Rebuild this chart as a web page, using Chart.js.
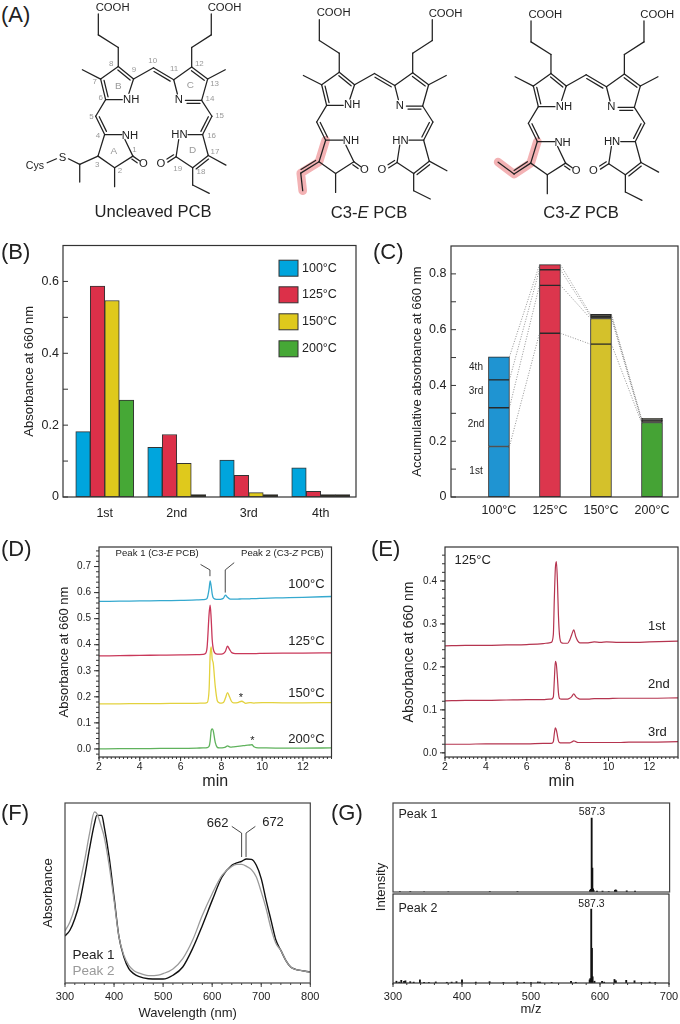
<!DOCTYPE html>
<html>
<head>
<meta charset="utf-8">
<title>PCB figure</title>
<script src="https://cdn.jsdelivr.net/npm/chart.js@4"></script>
<style>
  html, body { margin: 0; padding: 0; background: #fff; }
  body { position: relative; width: 680px; height: 1024px; overflow: hidden; font-family: "Liberation Sans", Arial, sans-serif; color: #222; }
  canvas { position: absolute; }
  svg { position: absolute; left: 0; top: 0; }
  .t { position: absolute; white-space: nowrap; line-height: 1; }
</style>
</head>
<body>
<script>
// panel B
const roundLabels = ['1st', '2nd', '3rd', '4th'];
const tempLabels = ['100°C', '125°C', '150°C', '200°C'];
const b100 = [0.182, 0.138, 0.103, 0.081];
const b125 = [0.587, 0.174, 0.060, 0.016];
const b150 = [0.547, 0.094, 0.012, 0.007];
const b200 = [0.270, 0.007, 0.007, 0.007];
const tempColors = ['#00a5dd', '#dc3049', '#dfc91c', '#46a836'];
const thinColor = '#2b2a1c';

// panel C (stack segments, one array per round, one value per temperature)
const c1st = [0.181, 0.587, 0.548, 0.267];
const c2nd = [0.139, 0.172, 0.092, 0.007];
const c3rd = [0.100, 0.056, 0.008, 0.004];
const c4th = [0.083, 0.018, 0.007, 0.004];
const stackColors = ['#1f94d2', '#dc364d', '#d4c12b', '#45a335'];

// panel D
const rtD = [2, 3, 4, 5, 6, 6.8, 7.1, 7.2, 7.3, 7.4, 7.45, 7.5, 7.55, 7.6, 7.7, 7.8, 7.9, 8.0, 8.1, 8.2, 8.3, 8.4, 8.5, 8.6, 8.8, 9.0, 9.2, 9.4, 9.5, 9.6, 9.7, 10, 11, 12, 13.4];
const d100 = [.566, .567, .568, .569, .570, .572, .573, .574, .578, .615, .645, .625, .595, .58, .575, .574, .574, .575, .578, .59, .582, .576, .575, .575, .575, .576, .576, .576, .577, .577, .577, .578, .58, .582, .585];
const d125 = [.357, .358, .359, .36, .361, .362, .363, .365, .39, .52, .552, .5, .42, .385, .366, .364, .364, .364, .366, .375, .394, .382, .37, .367, .366, .366, .366, .366, .366, .366, .366, .367, .368, .368, .369];
const d150 = [.173, .173, .174, .174, .175, .175, .176, .176, .178, .23, .36, .392, .345, .33, .24, .185, .177, .176, .178, .195, .216, .2, .182, .177, .178, .183, .175, .178, .177, .176, .177, .178, .177, .177, .178];
const d200 = [0, .001, .001, .002, .002, .003, .004, .004, .005, .01, .03, .07, .077, .07, .025, .006, .004, .004, .005, .007, .012, .008, .007, .008, .01, .012, .014, .015, .016, .008, .005, .004, .003, .003, .004];
const dColors = ['#35a9cf', '#c9385a', '#e3d23e', '#5fb25c'];
const dLeader1 = [{ x: 7.44, y: .663 }, { x: 7.44, y: .687 }, { x: 6.98, y: .708 }];
const dLeader2 = [{ x: 8.19, y: .60 }, { x: 8.19, y: .687 }, { x: 8.63, y: .715 }];

// panel E
const rtE = [2, 3, 4, 5, 6, 6.8, 7.1, 7.2, 7.3, 7.35, 7.4, 7.45, 7.5, 7.55, 7.6, 7.7, 7.8, 8.0, 8.1, 8.2, 8.3, 8.4, 8.5, 8.6, 8.8, 9.0, 9.3, 9.6, 9.9, 10.5, 11, 12, 13.4];
const e1st = [.249, .25, .25, .251, .252, .254, .256, .257, .275, .36, .43, .445, .40, .32, .275, .256, .255, .255, .262, .275, .286, .27, .26, .256, .256, .256, .258, .257, .258, .257, .257, .258, .26];
const e2nd = [.121, .122, .122, .123, .124, .124, .125, .125, .13, .17, .213, .205, .175, .14, .127, .125, .125, .125, .127, .131, .137, .131, .127, .125, .125, .125, .126, .126, .126, .127, .127, .127, .128];
const e3rd = [.02, .02, .021, .021, .021, .022, .022, .022, .026, .045, .058, .053, .04, .028, .024, .023, .023, .023, .023, .025, .028, .026, .024, .024, .024, .024, .024, .024, .024, .024, .025, .025, .026];

// panel F
const wave = [300, 310, 320, 330, 340, 350, 360, 365, 375, 380, 390, 400, 410, 420, 430, 440, 450, 470, 490, 500, 520, 540, 560, 580, 600, 620, 640, 650, 660, 670, 680, 690, 700, 710, 720, 730, 740, 750, 760, 770, 780, 790, 800];
const fPeak1 = [.261, .293, .357, .45, .589, .746, .885, .931, .931, .867, .7, .478, .256, .144, .08, .052, .037, .024, .022, .022, .043, .089, .191, .32, .459, .589, .654, .667, .676, .689, .687, .654, .58, .459, .348, .237, .181, .126, .089, .076, .07, .065, .061];
const fPeak2 = [.289, .339, .422, .552, .681, .83, .95, .941, .86, .811, .654, .459, .256, .154, .098, .07, .056, .041, .044, .052, .078, .135, .237, .376, .496, .598, .648, .659, .659, .648, .63, .589, .506, .413, .302, .219, .181, .126, .089, .076, .07, .065, .061];
const fLeft = [{ x: 660, y: .70 }, { x: 660, y: .833 }, { x: 640, y: .87 }];
const fRight = [{ x: 669, y: .70 }, { x: 669, y: .833 }, { x: 688, y: .87 }];

// panel G
const g1Mz = [310, 325, 345, 380, 440, 480, 585, 586, 587.3, 588.3, 589.3, 590, 595, 603, 612, 621, 622, 623, 638, 650];
const g1Int = [.004, .004, .003, .003, .005, .005, .02, .03, .83, .27, .035, .02, .01, .01, .006, .02, .025, .015, .014, .01];
const g2Mz = [305, 309, 312, 316, 318, 325, 330, 339, 345, 352, 362, 378, 385, 392, 400, 420, 440, 460, 480, 490, 500, 510, 513, 530, 558, 565, 585, 586, 587.3, 588.3, 589.3, 592, 603, 606, 621, 623, 638, 650, 660, 672, 680];
const g2Int = [.02, .01, .03, .02, .025, .015, .01, .035, .008, .006, .012, .008, .01, .015, .035, .01, .015, .006, .012, .008, .006, .012, .01, .006, .02, .008, .035, .05, .83, .39, .07, .02, .02, .01, .04, .025, .03, .025, .006, .01, .006];

// axis ticks
const bTicks = [0, 0.2, 0.4, 0.6], bMinor = [0.1, 0.3, 0.5];
const cTicks = [0, 0.2, 0.4, 0.6, 0.8], cMinor = [0.1, 0.3, 0.5, 0.7];
const dTicks = [0, .1, .2, .3, .4, .5, .6, .7];
const eTicks = [0, .1, .2, .3, .4];
const rtTicks = [2, 4, 6, 8, 10, 12];
const waveTicks = [300, 400, 500, 600, 700, 800];
const mzTicks = [300, 400, 500, 600, 700];

function steps(from, to, step) {
  const out = [];
  for (let i = 0; from + i * step <= to + 1e-9; i++) out.push(+(from + i * step).toFixed(3));
  return out;
}

Chart.defaults.font.family = '"Liberation Sans", Arial, sans-serif';
Chart.defaults.color = '#222';
Chart.defaults.animation = false;

const noGrid = { display: false, drawTicks: false };

// frame and tick marks, always placed through the scales
const frameTicks = {
  id: 'frameTicks',
  afterDatasetsDraw(chart, args, o) {
    const { ctx, chartArea: a, scales } = chart;
    const dir = o.dir || -1;
    const mark = (scale, v, len) => {
      const p = scale.getPixelForValue(v);
      ctx.beginPath();
      if (scale.axis === 'x') { ctx.moveTo(p, a.bottom); ctx.lineTo(p, a.bottom - dir * len); }
      else { ctx.moveTo(a.left, p); ctx.lineTo(a.left + dir * len, p); }
      ctx.stroke();
    };
    ctx.save();
    ctx.strokeStyle = o.color || '#333';
    ctx.lineWidth = 1;
    (o.xMajor || []).forEach(v => mark(scales.x, v, o.xMajorLen || o.major || 4));
    (o.xMinor || []).forEach(v => mark(scales.x, v, o.minor || 2));
    (o.yMajor || []).forEach(v => mark(scales.y, v, o.major || 4));
    (o.yMinor || []).forEach(v => mark(scales.y, v, o.yMinorLen || o.minor || 2));
    ctx.lineWidth = o.frameWidth || 1.2;
    ctx.strokeRect(a.left, a.top, a.right - a.left, a.bottom - a.top);
    ctx.restore();
  }
};
Chart.register(frameTicks);

// swatches of panel B
const swatchLegend = {
  id: 'swatchLegend',
  afterDraw(chart, args, o) {
    if (!o.tops) return;
    const ctx = chart.ctx, left = chart.chartArea.left + o.dx;
    ctx.save();
    chart.data.datasets.forEach((ds, i) => {
      const y = chart.chartArea.top + o.tops[i];
      ctx.fillStyle = tempColors[i];
      ctx.strokeStyle = '#333';
      ctx.fillRect(left, y, 19, 16);
      ctx.strokeRect(left, y, 19, 16);
      ctx.fillStyle = '#222';
      ctx.font = '12.5px "Liberation Sans"';
      ctx.textBaseline = 'middle';
      ctx.fillText(ds.label, left + 23, y + 8);
    });
    ctx.restore();
  }
};
Chart.register(swatchLegend);

// dotted lines that join the stack boundaries of panel C
const stackLinks = {
  id: 'stackLinks',
  afterDatasetsDraw(chart, args, o) {
    if (!o.on) return;
    const ctx = chart.ctx;
    ctx.save();
    ctx.strokeStyle = '#777';
    ctx.lineWidth = 0.8;
    ctx.setLineDash([1, 1.6]);
    chart.data.datasets.forEach((ds, d) => {
      const bars = chart.getDatasetMeta(d).data;
      for (let i = 0; i < bars.length - 1; i++) {
        ctx.beginPath();
        ctx.moveTo(bars[i].x + bars[i].width / 2, bars[i].y);
        ctx.lineTo(bars[i + 1].x - bars[i + 1].width / 2, bars[i + 1].y);
        ctx.stroke();
      }
    });
    ctx.restore();
  }
};
Chart.register(stackLinks);

// one canvas per panel, sized so the plot area lands on the frame
function panel(box, m, config) {
  const cv = document.createElement('canvas');
  const left = Math.floor(box.x0 - m.L), top = Math.floor(box.y0 - 8);
  const L = box.x0 - left, T = box.y0 - top;
  const right = Math.ceil(box.x1 + (m.R === undefined ? 2 : m.R)), bottom = Math.ceil(box.y1 + m.B);
  const w = right - left, h = bottom - top;
  cv.width = w; cv.height = h;
  cv.style.left = left + 'px';
  cv.style.top = top + 'px';
  cv.style.width = w + 'px';
  cv.style.height = h + 'px';
  document.body.appendChild(cv);
  config.options.responsive = false;
  config.options.devicePixelRatio = 1;
  config.options.layout = { padding: { top: T, right: right - box.x1, left: 0, bottom: 0 } };
  config.options.plugins = Object.assign({ legend: { display: false }, tooltip: { enabled: false } }, config.options.plugins);
  config.options.scales.y.afterFit = s => { s.width = L; };
  config.options.scales.x.afterFit = s => { s.height = bottom - box.y1; };
  config.options.scales.x.offset = false;
  return new Chart(cv, config);
}

function fixedTicks(values) {
  return s => { s.ticks = values.map(v => ({ value: v })); };
}

function yTitle(text, size) {
  return { display: true, text: text, font: { size: size }, padding: 0, color: '#222' };
}

function trace(xs, ys, color, width) {
  return {
    data: ys.map((y, i) => ({ x: xs[i], y: y })), borderColor: color, borderWidth: width,
    pointRadius: 0, fill: false, cubicInterpolationMode: 'monotone'
  };
}

function leader(points, color) {
  return { data: points, borderColor: color || '#333', borderWidth: 0.9, pointRadius: 0, fill: false, tension: 0 };
}

function label(html, x, y, size, opts) {
  opts = opts || {};
  const el = document.createElement('div');
  el.className = 't';
  el.innerHTML = html;
  el.style.left = x + 'px';
  el.style.top = y + 'px';
  el.style.fontSize = size + 'px';
  if (opts.color) el.style.color = opts.color;
  const ax = opts.align === 'right' ? '-100%' : opts.align === 'left' ? '0' : '-50%';
  el.style.transform = 'translate(' + ax + ',-50%)' + (opts.rotate ? ' rotate(-90deg)' : '');
  document.body.appendChild(el);
}

// Panel B
panel({ x0: 63, y0: 242, x1: 356, y1: 497 }, { L: 40.4, B: 30, R: 4 }, {
  type: 'bar',
  data: {
    datasets: tempLabels.map((name, t) => {
      const vals = [b100, b125, b150, b200][t];
      return {
        label: name,
        data: vals.map((v, i) => ({ x: i, y: v })),
        backgroundColor: vals.map(v => v < 0.01 ? thinColor : tempColors[t]),
        borderColor: '#333', borderWidth: 1, borderSkipped: false,
        barThickness: 14.5
      };
    })
  },
  options: {
    plugins: {
      frameTicks: { dir: 1, major: 5, minor: 5, yMajor: bTicks, yMinor: bMinor, color: '#333' },
      swatchLegend: { dx: 216, tops: [14.7, 41.3, 68.3, 95.3] }
    },
    scales: {
      x: {
        type: 'linear', min: -0.58, max: 3.49, grid: noGrid, border: { display: false },
        afterBuildTicks: fixedTicks([0, 1, 2, 3]),
        ticks: { padding: 9, font: { size: 12.5 }, maxRotation: 0, callback: v => roundLabels[v] }
      },
      y: {
        min: 0, max: 0.7, grid: noGrid, border: { display: false },
        afterBuildTicks: fixedTicks(bTicks),
        title: yTitle('Absorbance at 660 nm', 13),
        ticks: { padding: 4, font: { size: 12.5 }, callback: v => v === 0 ? '0' : v.toFixed(1) }
      }
    }
  }
});

// Panel C
panel({ x0: 451, y0: 242, x1: 678, y1: 497 }, { L: 40.8, B: 28, R: 2 }, {
  type: 'bar',
  data: {
    datasets: [c1st, c2nd, c3rd, c4th].map(vals => ({
      data: vals.map((v, i) => ({ x: i, y: v })),
      backgroundColor: vals.map((v, i) => v < 0.01 ? thinColor : stackColors[i]),
      borderColor: '#2a2a2a', borderWidth: 1, borderSkipped: false,
      barThickness: 21
    }))
  },
  options: {
    plugins: {
      frameTicks: { dir: 1, major: 5, minor: 5, yMajor: cTicks, yMinor: cMinor },
      stackLinks: { on: true }
    },
    scales: {
      x: {
        type: 'linear', stacked: true, min: -0.94, max: 3.51, grid: noGrid, border: { display: false },
        afterBuildTicks: fixedTicks([0, 1, 2, 3]),
        ticks: { padding: 6.5, font: { size: 12.5 }, maxRotation: 0, callback: v => tempLabels[v] }
      },
      y: {
        stacked: true, min: 0, max: 0.9, grid: noGrid, border: { display: false },
        afterBuildTicks: fixedTicks(cTicks),
        title: yTitle('Accumulative absorbance at 660 nm', 13),
        ticks: { padding: 4.5, font: { size: 12.5 }, callback: v => v === 0 ? '0' : v.toFixed(1) }
      }
    }
  }
});
label('4th', 476, 366.7, 10);
label('3rd', 476, 390.7, 10);
label('2nd', 476, 424.3, 10);
label('1st', 476, 471, 10);

// Panel D
panel({ x0: 99, y0: 541, x1: 331.5, y1: 757 }, { L: 41.4, B: 34, R: 6 }, {
  type: 'line',
  data: {
    datasets: [
      trace(rtD, d100, dColors[0], 1.3), trace(rtD, d125, dColors[1], 1.3),
      trace(rtD, d150, dColors[2], 1.3), trace(rtD, d200, dColors[3], 1.3),
      leader(dLeader1), leader(dLeader2)
    ]
  },
  options: {
    plugins: {
      frameTicks: { dir: -1, major: 5, xMajorLen: 4, minor: 2, yMinorLen: 3, xMajor: rtTicks, xMinor: steps(2, 13.4, 0.2), yMajor: dTicks, yMinor: steps(-0.02, 0.76, 0.02) }
    },
    scales: {
      x: {
        type: 'linear', min: 2, max: 13.4, grid: noGrid, border: { display: false },
        afterBuildTicks: fixedTicks(rtTicks),
        title: { display: true, text: 'min', font: { size: 16 }, padding: 0, color: '#222' },
        ticks: { padding: 4, font: { size: 10.5 }, maxRotation: 0, callback: v => String(v) }
      },
      y: {
        min: -0.031, max: 0.775, grid: noGrid, border: { display: false },
        afterBuildTicks: fixedTicks(dTicks),
        title: yTitle('Absorbance at 660 nm', 13),
        ticks: { padding: 8, font: { size: 10 }, callback: v => v.toFixed(1) }
      }
    }
  }
});
label('Peak 1 (C3-<i>E</i> PCB)', 115.6, 553, 9.6, { align: 'left' });
label('Peak 2 (C3-<i>Z</i> PCB)', 241, 553, 9.6, { align: 'left' });
label('100°C', 324.6, 583, 13, { align: 'right' });
label('125°C', 324.6, 640, 13, { align: 'right' });
label('150°C', 324.6, 692, 13, { align: 'right' });
label('200°C', 324.6, 738, 13, { align: 'right' });
label('*', 241, 697, 11);
label('*', 252.5, 740, 11);

// Panel E
panel({ x0: 445, y0: 541, x1: 678, y1: 757 }, { L: 43.6, B: 34, R: 2 }, {
  type: 'line',
  data: {
    datasets: [
      trace(rtE, e1st, '#b5344f', 1.2), trace(rtE, e2nd, '#b5344f', 1.2), trace(rtE, e3rd, '#b5344f', 1.2)
    ]
  },
  options: {
    plugins: {
      frameTicks: { dir: -1, major: 5, xMajorLen: 4, minor: 2, yMinorLen: 3, xMajor: rtTicks, xMinor: steps(2, 13.4, 0.2), yMajor: eTicks, yMinor: steps(0, 0.46, 0.02) }
    },
    scales: {
      x: {
        type: 'linear', min: 2, max: 13.4, grid: noGrid, border: { display: false },
        afterBuildTicks: fixedTicks(rtTicks),
        title: { display: true, text: 'min', font: { size: 16 }, padding: 0, color: '#222' },
        ticks: { padding: 4, font: { size: 10.5 }, maxRotation: 0, callback: v => String(v) }
      },
      y: {
        min: -0.0097, max: 0.479, grid: noGrid, border: { display: false },
        afterBuildTicks: fixedTicks(eTicks),
        title: yTitle('Absorbance at 660 nm', 14),
        ticks: { padding: 8, font: { size: 10 }, callback: v => v.toFixed(1) }
      }
    }
  }
});
label('125°C', 454.6, 558.6, 13, { align: 'left' });
label('1st', 648, 625, 13, { align: 'left' });
label('2nd', 648, 683, 13, { align: 'left' });
label('3rd', 648, 731, 13, { align: 'left' });

// Panel F
panel({ x0: 65, y0: 803, x1: 310.3, y1: 983 }, { L: 23.6, B: 37.4, R: 20 }, {
  type: 'line',
  data: {
    datasets: [
      trace(wave, fPeak2, '#9a9a9a', 1.3), trace(wave, fPeak1, '#111', 1.4),
      leader(fLeft), leader(fRight)
    ]
  },
  options: {
    plugins: {
      frameTicks: { dir: -1, major: 4, minor: 2, color: '#444', xMajor: waveTicks, xMinor: steps(300, 800, 20) }
    },
    scales: {
      x: {
        type: 'linear', min: 300, max: 800, grid: noGrid, border: { display: false },
        afterBuildTicks: fixedTicks(waveTicks),
        title: { display: true, text: 'Wavelength (nm)', font: { size: 13 }, padding: 0, color: '#222' },
        ticks: { padding: 7.5, font: { size: 11 }, maxRotation: 0, callback: v => String(v) }
      },
      y: {
        min: 0, max: 1, grid: noGrid, border: { display: false },
        title: yTitle('Absorbance', 13),
        ticks: { display: false }
      }
    }
  }
});
label('662', 217.6, 822, 13);
label('672', 273, 820.5, 13);
label('Peak 1', 72.5, 954.7, 13.5, { align: 'left' });
label('Peak 2', 72.5, 970.7, 13.5, { align: 'left', color: '#999' });

// Panel G
function massBars(mz, intensity) {
  return [{ data: mz.map((m, i) => ({ x: m, y: intensity[i] })), backgroundColor: '#111', barThickness: 1.2 }];
}
panel({ x0: 393, y0: 803, x1: 669.6, y1: 892 }, { L: 2, B: 2, R: 2 }, {
  type: 'bar',
  data: { datasets: massBars(g1Mz, g1Int) },
  options: {
    plugins: { frameTicks: { color: '#444' } },
    scales: {
      x: { type: 'linear', min: 300, max: 700, grid: noGrid, border: { display: false }, ticks: { display: false } },
      y: { min: 0, max: 1, grid: noGrid, border: { display: false }, ticks: { display: false } }
    }
  }
});
panel({ x0: 393, y0: 894, x1: 669, y1: 983 }, { L: 20, B: 33.8, R: 20 }, {
  type: 'bar',
  data: { datasets: massBars(g2Mz, g2Int) },
  options: {
    plugins: { frameTicks: { dir: -1, major: 4, minor: 2, color: '#333', xMajor: mzTicks, xMinor: steps(300, 700, 20) } },
    scales: {
      x: {
        type: 'linear', min: 300, max: 700, grid: noGrid, border: { display: false },
        afterBuildTicks: fixedTicks(mzTicks),
        title: { display: true, text: 'm/z', font: { size: 13 }, padding: 0, color: '#222' },
        ticks: { padding: 7, font: { size: 11 }, maxRotation: 0, callback: v => String(v) }
      },
      y: { min: 0, max: 1, grid: noGrid, border: { display: false }, ticks: { display: false } }
    }
  }
});
label('Peak 1', 398.5, 814, 12.5, { align: 'left' });
label('Peak 2', 398.5, 908, 12.5, { align: 'left' });
label('587.3', 592, 811, 10.5);
label('587.3', 591.5, 903, 10.5);
label('Intensity', 380, 887, 13, { rotate: true });

// Panel letters
label('(A)', 1, 15, 22, { align: 'left' });
label('(B)', 1, 252, 22, { align: 'left' });
label('(C)', 373, 252, 22, { align: 'left' });
label('(D)', 1, 549, 22, { align: 'left' });
label('(E)', 371, 549, 22, { align: 'left' });
label('(F)', 1, 813, 22, { align: 'left' });
label('(G)', 331, 813, 22, { align: 'left' });

// Panel A: structure drawings in the units of one molecule
const atoms = {
  c1: [400, 470], c2: [345, 505], c3: [295, 470], c4: [315, 405], c5: [288, 350], c6: [318, 300], c7: [303, 238], c8: [356, 200], c9: [402, 238],
  c10: [462, 204], c11: [523, 240], c12: [577, 202], c13: [625, 238], c14: [607, 302], c15: [638, 350], c16: [610, 405], c17: [627, 468], c18: [580, 505], c19: [530, 472]
};
const bonds = [
  [[296, 42], [296, 105]], [[296, 105], [356, 143]], [[356, 143], 'c8'],
  [[577, 202], [577, 143]], [[577, 143], [636, 105]], [[636, 105], [636, 42]],
  ['c7', 'c8'], ['c9', [388, 281]], ['c6', [368, 300]], ['c7', [248, 210]], ['c6', 'c5'], ['c4', [367, 405]], [[376, 420], 'c1'],
  ['c1', 'c2'], ['c2', 'c3'], ['c3', 'c4'], ['c2', [345, 562]], ['c9', 'c10'], ['c11', 'c12'], ['c13', 'c14'], ['c11', [534, 283]],
  ['c13', [678, 210]], ['c14', 'c15'], ['c16', [566, 405]], [[538, 420], 'c19'], ['c19', 'c18'], ['c17', 'c16'], ['c17', [680, 497]],
  ['c18', [580, 557]], [[580, 557], [630, 582]]
];
const doubleBonds = [
  ['c8', 'c9', 1], ['c6', 'c7', 1], ['c5', 'c4', -1], ['c10', 'c11', 1], ['c12', 'c13', 1], ['c14', [558, 302], -1], ['c15', 'c16', 1],
  ['c1', [420, 484], 1], ['c19', [505, 488], 1], ['c18', 'c17', 1]
];
const atomLabels = [
  ['COOH', 339, 20], ['COOH', 676, 22], ['NH', 395, 297], ['N', 538, 298], ['NH', 391, 405], ['HN', 540, 404], ['O', 432, 492], ['O', 484, 492]
];
const numberLabels = [
  ['8', 335, 190], ['9', 403, 210], ['10', 460, 183], ['11', 524, 207], ['12', 600, 192], ['13', 646, 250], ['7', 285, 246], ['6', 303, 295], ['5', 275, 350],
  ['4', 295, 408], ['1', 405, 450], ['2', 361, 512], ['3', 293, 494], ['14', 632, 298], ['15', 661, 349], ['16', 637, 408], ['17', 647, 455], ['18', 605, 515], ['19', 535, 506]
];
const ringLabels = [['B', 356, 258], ['C', 573, 253], ['A', 343, 453], ['D', 580, 450]];

const NS = 'http://www.w3.org/2000/svg';
const svg = document.createElementNS(NS, 'svg');
svg.setAttribute('width', 680);
svg.setAttribute('height', 240);
document.body.appendChild(svg);

function pt(p) { return typeof p === 'string' ? atoms[p] : p; }

function line(g, a, b, color, width) {
  const l = document.createElementNS(NS, 'line');
  l.setAttribute('x1', a[0]); l.setAttribute('y1', a[1]); l.setAttribute('x2', b[0]); l.setAttribute('y2', b[1]);
  l.setAttribute('stroke', color || '#222');
  l.setAttribute('stroke-width', width || 3.8);
  l.setAttribute('stroke-linecap', 'round');
  g.appendChild(l);
}

function doubleLine(g, a, b, side) {
  a = pt(a); b = pt(b);
  line(g, a, b);
  const dx = b[0] - a[0], dy = b[1] - a[1], len = Math.hypot(dx, dy);
  const ox = -dy / len * 9 * side, oy = dx / len * 9 * side;
  line(g, [a[0] + dx * .1 + ox, a[1] + dy * .1 + oy], [b[0] - dx * .1 + ox, b[1] - dy * .1 + oy]);
}

function svgText(g, text, x, y, size, color) {
  const t = document.createElementNS(NS, 'text');
  t.textContent = text;
  t.setAttribute('x', x); t.setAttribute('y', y);
  t.setAttribute('font-size', size);
  t.setAttribute('font-family', '"Liberation Sans", Arial, sans-serif');
  t.setAttribute('text-anchor', 'middle');
  t.setAttribute('dominant-baseline', 'central');
  t.setAttribute('fill', color || '#222');
  g.appendChild(t);
}

function molecule(dx, dy, variant) {
  const g = document.createElementNS(NS, 'g');
  g.setAttribute('transform', 'translate(' + dx + ',' + dy + ') scale(0.3322)');
  svg.appendChild(g);
  if (variant.highlight) {
    const path = document.createElementNS(NS, 'polyline');
    path.setAttribute('points', variant.highlight.map(p => p.join(',')).join(' '));
    path.setAttribute('fill', 'none');
    path.setAttribute('stroke', '#f3b2b4');
    path.setAttribute('stroke-width', 26);
    path.setAttribute('stroke-linecap', 'round');
    path.setAttribute('stroke-linejoin', 'round');
    g.appendChild(path);
  }
  bonds.forEach(b => line(g, pt(b[0]), pt(b[1])));
  doubleBonds.forEach(b => doubleLine(g, b[0], b[1], b[2]));
  atomLabels.forEach(a => svgText(g, a[0], a[1], a[2], 34));
  variant.draw(g);
  return g;
}

molecule(0, 0, {
  draw(g) {
    line(g, pt('c3'), [240, 495]);
    line(g, [240, 495], [240, 548]);
    line(g, [240, 495], [206, 478]);
    line(g, [170, 478], [142, 490]);
    svgText(g, 'S', 188, 472, 34);
    svgText(g, 'Cys', 105, 498, 32);
    numberLabels.forEach(n => svgText(g, n[0], n[1], n[2], 24, '#999'));
    ringLabels.forEach(n => svgText(g, n[0], n[1], n[2], 30, '#999'));
  }
});
molecule(221, 5.7, {
  highlight: [pt('c4'), pt('c3'), [240, 504], [246, 557]],
  draw(g) {
    doubleLine(g, 'c3', [240, 504], 1);
    line(g, [240, 504], [246, 557]);
  }
});
molecule(432.7, 7, {
  highlight: [pt('c4'), pt('c3'), [245, 503], [197, 467]],
  draw(g) {
    doubleLine(g, 'c3', [245, 503], 1);
    line(g, [245, 503], [197, 467]);
  }
});
label('Uncleaved PCB', 153, 212, 16.6);
label('C3-<i>E</i> PCB', 369, 213, 16.6);
label('C3-<i>Z</i> PCB', 581, 213, 16.6);
</script>
</body>
</html>
